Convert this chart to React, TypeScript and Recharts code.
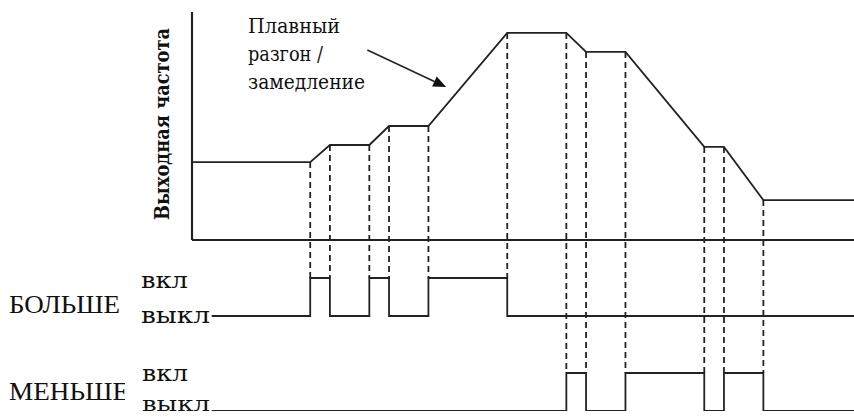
import React from 'react';
import { ComposedChart, Line, XAxis, YAxis, ReferenceLine } from 'recharts';

// ---- data (time in arbitrary units, frequency in arbitrary units) ----
const freqTimes = [0, 6, 7, 9, 10, 12, 16, 19, 20, 22, 26, 27, 29, 33.6];
const freqValues = [4.1, 4.1, 5, 5, 6, 6, 10.9, 10.9, 9.9, 9.9, 4.9, 4.9, 2.1, 2.1];

const upTimes = [1, 6, 7, 9, 10, 12, 16, 33.6];
const upStates = [0, 1, 0, 1, 0, 1, 0, 0];

const downTimes = [1, 19, 20, 22, 26, 27, 29, 33.6];
const downStates = [0, 1, 0, 1, 0, 1, 0, 0];

const annotationLines = ['Плавный', 'разгон /', 'замедление'];
const yAxisTitle = 'Выходная частота';
const signalNames = ['БОЛЬШЕ', 'МЕНЬШЕ'];
const stateLabels = ['вкл', 'выкл'];

const arrowFrom = { t: 8.9, f: 10 };
const arrowTo = { t: 12.9, f: 8.05 };

// ---- derived tables ----
const freqData = freqTimes.map((t, i) => ({ t, f: freqValues[i] }));
const upData = upTimes.map((t, i) => ({ t, s: upStates[i] }));
const downData = downTimes.map((t, i) => ({ t, s: downStates[i] }));

const freqAt = (t: number) => {
  const i = freqTimes.indexOf(t);
  return freqValues[i];
};
const upSwitches = upTimes.slice(1, -1);
const downSwitches = downTimes.slice(1, -1);

const INK = '#222';
const UP_ON_IN_F = -2; // where dashed guides stop (БОЛЬШЕ 'on' level)
const DOWN_ON_IN_F = -7; // МЕНЬШЕ 'on' level

const ArrowShape = (props: any) => {
  const { x1, y1, x2, y2 } = props;
  const dx = x2 - x1;
  const dy = y2 - y1;
  const len = Math.sqrt(dx * dx + dy * dy) || 1;
  const ux = dx / len;
  const uy = dy / len;
  const L = 13;
  const W = 5.5;
  const bx = x2 - ux * L;
  const by = y2 - uy * L;
  const pts = `${x2},${y2} ${bx - uy * W},${by + ux * W} ${bx + uy * W},${by - ux * W}`;
  return (
    <g>
      <line x1={x1} y1={y1} x2={bx} y2={by} stroke={INK} strokeWidth={1.5} />
      <polygon points={pts} fill="#111" />
    </g>
  );
};

export default function App() {
  return (
    <div
      style={{
        position: 'absolute',
        left: 0,
        top: 0,
        width: 854,
        height: 417,
        background: '#fff',
        overflow: 'hidden',
      }}
    >
      <ComposedChart width={854} height={417} margin={{ top: 12, right: 0, bottom: 6, left: 192 }}>
        <XAxis type="number" dataKey="t" domain={[0, 33.6]} hide allowDataOverflow />
        <YAxis yAxisId="f" type="number" domain={[-9, 12]} hide allowDataOverflow />
        <YAxis yAxisId="up" type="number" domain={[-2.5, 8]} hide allowDataOverflow />
        <YAxis yAxisId="down" type="number" domain={[0, 10.5]} hide allowDataOverflow />

        {upSwitches.map((t) => (
          <ReferenceLine
            key={'u' + t}
            yAxisId="f"
            segment={[{ x: t, y: freqAt(t) }, { x: t, y: UP_ON_IN_F }]}
            stroke={INK}
            strokeWidth={1.8}
            strokeDasharray="6 4"
          />
        ))}
        {downSwitches.map((t) => (
          <ReferenceLine
            key={'d' + t}
            yAxisId="f"
            segment={[{ x: t, y: freqAt(t) }, { x: t, y: DOWN_ON_IN_F }]}
            stroke={INK}
            strokeWidth={1.8}
            strokeDasharray="6 4"
          />
        ))}

        <ReferenceLine yAxisId="f" y={0} stroke={INK} strokeWidth={2.2} />
        <ReferenceLine
          yAxisId="f"
          segment={[{ x: 0, y: 0 }, { x: 0, y: 12 }]}
          stroke={INK}
          strokeWidth={2.2}
        />
        <ReferenceLine
          yAxisId="f"
          segment={[{ x: arrowFrom.t, y: arrowFrom.f }, { x: arrowTo.t, y: arrowTo.f }]}
          shape={ArrowShape}
        />

        <Line
          yAxisId="f"
          data={freqData}
          dataKey="f"
          type="linear"
          stroke={INK}
          strokeWidth={1.8}
          dot={false}
          isAnimationActive={false}
        />
        <Line
          yAxisId="up"
          data={upData}
          dataKey="s"
          type="stepAfter"
          stroke={INK}
          strokeWidth={1.8}
          dot={false}
          isAnimationActive={false}
        />
        <Line
          yAxisId="down"
          data={downData}
          dataKey="s"
          type="stepAfter"
          stroke={INK}
          strokeWidth={1.8}
          dot={false}
          isAnimationActive={false}
        />
      </ComposedChart>

      <svg
        width={854}
        height={417}
        style={{ position: 'absolute', left: 0, top: 0, pointerEvents: 'none' }}
      >
        <defs>
          <clipPath id="menClip">
            <rect x={0} y={360} width={125} height={57} />
          </clipPath>
        </defs>
        <g fill="#111" fontFamily="'DejaVu Serif', serif">
          <text x={248} y={33} fontSize={20} textLength={92} lengthAdjust="spacingAndGlyphs">
            {annotationLines[0]}
          </text>
          <text x={248} y={61} fontSize={20} textLength={75} lengthAdjust="spacingAndGlyphs">
            {annotationLines[1]}
          </text>
          <text x={248} y={89} fontSize={20} textLength={117} lengthAdjust="spacingAndGlyphs">
            {annotationLines[2]}
          </text>

          <text
            transform="translate(169,124) rotate(-90)"
            textAnchor="middle"
            fontSize={20}
            fontWeight="bold"
            textLength={192}
            lengthAdjust="spacingAndGlyphs"
          >
            {yAxisTitle}
          </text>

          <text x={141} y={288} fontSize={22} textLength={47} lengthAdjust="spacingAndGlyphs">
            {stateLabels[0]}
          </text>
          <text x={141} y={323} fontSize={22} textLength={69} lengthAdjust="spacingAndGlyphs">
            {stateLabels[1]}
          </text>
          <text x={142} y={381} fontSize={22} textLength={46} lengthAdjust="spacingAndGlyphs">
            {stateLabels[0]}
          </text>
          <text x={142} y={411} fontSize={20} textLength={68} lengthAdjust="spacingAndGlyphs">
            {stateLabels[1]}
          </text>
        </g>
        <g fill="#111" fontFamily="'Liberation Serif', 'Times New Roman', serif">
          <text x={9} y={313} fontSize={25} textLength={111} lengthAdjust="spacingAndGlyphs">
            {signalNames[0]}
          </text>
          <g clipPath="url(#menClip)">
            <text x={9} y={400} fontSize={25} textLength={120} lengthAdjust="spacingAndGlyphs">
              {signalNames[1]}
            </text>
          </g>
        </g>
      </svg>
    </div>
  );
}
